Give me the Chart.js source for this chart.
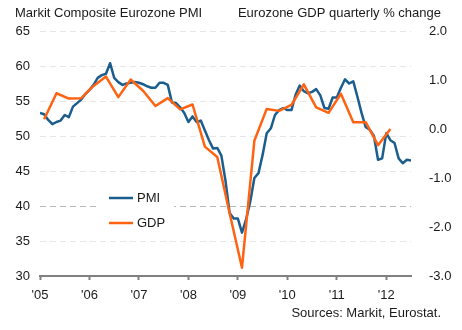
<!DOCTYPE html>
<html>
<head>
<meta charset="utf-8">
<script src="https://cdn.jsdelivr.net/npm/chart.js@4.4.1/dist/chart.umd.min.js"></script>
<style>
  html, body { margin: 0; padding: 0; background: #fff; }
  canvas { display: block; }
</style>
</head>
<body>
<canvas id="pmiChart" width="462" height="330"></canvas>
<script>
// monthly PMI from Jan 2005, quarterly GDP from Q1 2005
const startYear = 2005;
const yearTicks = [2005, 2006, 2007, 2008, 2009, 2010, 2011, 2012];

const pmi = [
    53.3, 53.1, 52.3, 51.7, 52.0, 52.2, 53.0, 52.7, 54.2, 54.7, 55.2, 56.0,
    56.6, 57.3, 58.3, 58.7, 58.9, 60.4, 58.3, 57.7, 57.3, 57.5, 57.6, 57.7,
    57.6, 57.4, 57.1, 56.9, 56.9, 57.6, 57.6, 57.3, 54.8, 54.7, 54.1, 53.3,
    52.0, 52.8, 52.0, 52.2, 50.8, 49.4, 48.2, 48.3, 47.2, 43.6, 39.0, 38.2,
    38.2, 36.2, 38.1, 40.6, 44.0, 44.7, 47.3, 50.4, 51.1, 53.0, 53.7, 54.0,
    53.7, 53.7, 55.9, 57.2, 56.4, 56.1, 56.3, 56.7, 55.8, 54.0, 53.9, 55.5,
    55.5, 56.9, 58.1, 57.5, 57.8, 55.6, 53.3, 51.3, 50.9, 50.0, 46.6, 46.8,
    50.4, 49.4, 49.0, 46.8, 46.1, 46.6, 46.5
];

const gdp = [
    0.20, 0.73, 0.62, 0.63,
    0.88, 1.07, 0.65, 1.01,
    0.78, 0.47, 0.63, 0.40,
    0.50, -0.36, -0.57, -1.72,
    -2.83, -0.24, 0.41, 0.37,
    0.49, 0.91, 0.44, 0.33,
    0.72, 0.14, 0.14, -0.33,
    0.00
];

const leftTitle = 'Markit Composite Eurozone PMI';
const rightTitle = 'Eurozone GDP quarterly % change';
const sourceNote = 'Sources: Markit, Eurostat.';

const FONT_FAMILY = "'Liberation Sans', Arial, sans-serif";
const FONT = '13px ' + FONT_FAMILY;
const TEXT = '#1a1a1a';

// titles above and source line below
const captions = {
    id: 'captions',
    afterDraw(chart) {
        const c = chart.ctx;
        c.save();
        c.font = FONT;
        c.fillStyle = TEXT;
        c.textBaseline = 'middle';
        c.textAlign = 'left';
        c.fillText(leftTitle, 15, 13);
        c.textAlign = 'right';
        c.fillText(rightTitle, 441, 13);
        c.fillText(sourceNote, 441, 313);
        c.restore();
    }
};

// legend sits inside the plot, over a white patch
const insideLegend = {
    id: 'insideLegend',
    beforeDatasetsDraw(chart) {
        const c = chart.ctx;
        c.save();
        c.fillStyle = '#fff';
        c.fillRect(97, 182, 77, 54);
        chart.data.datasets.forEach((ds, i) => {
            const y = 198 + i * 25;
            c.strokeStyle = ds.borderColor;
            c.lineWidth = 2.5;
            c.beginPath();
            c.moveTo(109, y);
            c.lineTo(133, y);
            c.stroke();
            c.font = FONT;
            c.fillStyle = TEXT;
            c.textBaseline = 'middle';
            c.textAlign = 'left';
            c.fillText(ds.label, 137, y);
        });
        c.restore();
    }
};

new Chart(document.getElementById('pmiChart'), {
    type: 'line',
    data: {
        datasets: [
            {
                label: 'PMI',
                data: pmi.map((v, i) => ({ x: startYear + i / 12, y: v })),
                borderColor: '#1b5e8e',
                yAxisID: 'y',
                order: 1
            },
            {
                label: 'GDP',
                data: gdp.map((v, k) => ({ x: startYear + (1 + 3 * k) / 12, y: v })),
                borderColor: '#ff6312',
                yAxisID: 'y1',
                order: 0
            }
        ]
    },
    options: {
        responsive: false,
        animation: false,
        layout: { padding: { top: 31, left: 0, right: 0, bottom: 0 } },
        elements: {
            line: { borderWidth: 2.5, tension: 0, borderJoinStyle: 'round' },
            point: { radius: 0, hoverRadius: 0 }
        },
        plugins: {
            legend: { display: false },
            tooltip: { enabled: false }
        },
        scales: {
            x: {
                type: 'linear',
                min: 2005,
                max: 2012.5,
                afterBuildTicks: s => { s.ticks = yearTicks.map(v => ({ value: v })); },
                afterFit: s => { s.height = 54; },
                grid: {
                    drawOnChartArea: false,
                    drawTicks: true,
                    tickLength: 4,
                    tickColor: '#808080',
                    tickWidth: 2
                },
                border: { color: '#808080', width: 2 },
                ticks: {
                    padding: 8,
                    color: TEXT,
                    font: { family: FONT_FAMILY, size: 13 },
                    maxRotation: 0,
                    autoSkip: false,
                    callback: v => "'" + String(v).slice(2)
                }
            },
            y: {
                position: 'left',
                min: 30,
                max: 65,
                afterFit: s => { s.width = 40; },
                grid: {
                    drawTicks: false,
                    lineWidth: 1,
                    color: ctx => {
                        const v = ctx.tick && ctx.tick.value;
                        if (v === 30) return 'rgba(0,0,0,0)';
                        return v === 40 ? '#b8b8b8' : '#e6e6e6';
                    }
                },
                border: { display: false, dash: [6, 4] },
                ticks: {
                    stepSize: 5,
                    padding: 10,
                    color: TEXT,
                    font: { family: FONT_FAMILY, size: 13 }
                }
            },
            y1: {
                position: 'right',
                min: -3,
                max: 2,
                afterFit: s => { s.width = 51; },
                grid: { display: false },
                border: { display: false },
                ticks: {
                    stepSize: 1,
                    padding: 10,
                    color: TEXT,
                    font: { family: FONT_FAMILY, size: 13 },
                    callback: v => v.toFixed(1)
                }
            }
        }
    },
    plugins: [captions, insideLegend]
});
</script>
</body>
</html>
